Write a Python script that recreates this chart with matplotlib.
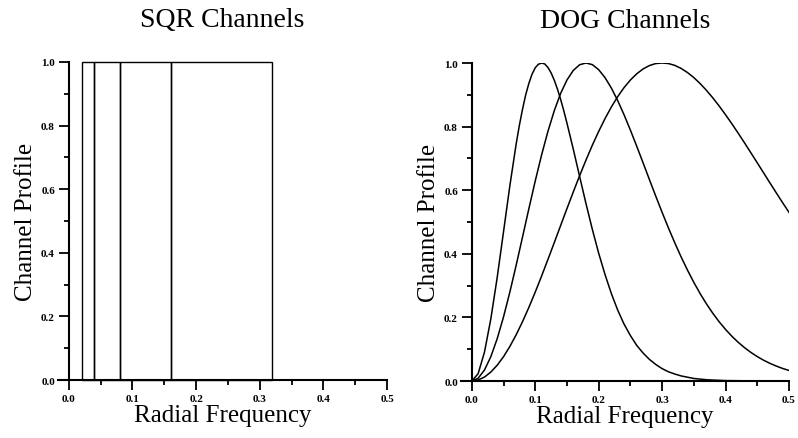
import numpy as np
import matplotlib
matplotlib.use("Agg")
import matplotlib.pyplot as plt
from matplotlib.ticker import MultipleLocator, FormatStrFormatter

plt.rcParams['font.family'] = ['Liberation Serif', 'DejaVu Serif']

# SQR channel band edges (radial frequency) and their height
sqr_edges = [0.02, 0.04, 0.08, 0.16, 0.32]
sqr_height = 1.0

# DOG channel profiles
f_ch1 = [0.00, 0.01, 0.02, 0.03, 0.04, 0.05, 0.06, 0.07, 0.075, 0.08, 0.085,
         0.09, 0.095, 0.10, 0.105, 0.11, 0.115, 0.12, 0.125, 0.13, 0.135,
         0.14, 0.145, 0.15, 0.16, 0.17, 0.18, 0.19, 0.20, 0.21, 0.22, 0.23,
         0.24, 0.25, 0.26, 0.27, 0.28, 0.29, 0.30, 0.31, 0.32, 0.33, 0.34,
         0.35, 0.36, 0.37, 0.38, 0.40, 0.45, 0.50]
dog1 = [0.0, 0.023, 0.091, 0.195, 0.325, 0.469, 0.614, 0.746, 0.804, 0.855,
        0.900, 0.936, 0.965, 0.985, 0.996, 1.0, 0.997, 0.986, 0.969, 0.946,
        0.918, 0.886, 0.850, 0.811, 0.729, 0.643, 0.558, 0.477, 0.402, 0.335,
        0.275, 0.223, 0.179, 0.143, 0.112, 0.088, 0.068, 0.052, 0.039, 0.029,
        0.022, 0.016, 0.012, 0.008, 0.006, 0.004, 0.003, 0.0014, 0.0003, 0.0]

f_grid = [0.00, 0.01, 0.02, 0.03, 0.04, 0.05, 0.06, 0.07, 0.08, 0.09, 0.10,
          0.11, 0.12, 0.13, 0.14, 0.15, 0.16, 0.17, 0.18, 0.19, 0.20, 0.21,
          0.22, 0.23, 0.24, 0.25, 0.26, 0.27, 0.28, 0.29, 0.30, 0.31, 0.32,
          0.33, 0.34, 0.35, 0.36, 0.37, 0.38, 0.39, 0.40, 0.41, 0.42, 0.43,
          0.44, 0.45, 0.46, 0.47, 0.48, 0.49, 0.50]
dog2 = [0.0, 0.0087, 0.0346, 0.0765, 0.1328, 0.2014, 0.2796, 0.3645, 0.4530,
        0.5421, 0.6289, 0.7106, 0.7848, 0.8499, 0.9042, 0.9465, 0.9767,
        0.9945, 1.0, 0.9949, 0.9790, 0.9541, 0.9212, 0.8819, 0.8373, 0.7891,
        0.7383, 0.6861, 0.6334, 0.5813, 0.5304, 0.4813, 0.4344, 0.3901,
        0.3487, 0.3102, 0.2747, 0.2423, 0.2128, 0.1861, 0.1622, 0.1407,
        0.1216, 0.1048, 0.0899, 0.0768, 0.0654, 0.0555, 0.0470, 0.0395,
        0.0332]
dog3 = [0.0, 0.0031, 0.0125, 0.0281, 0.0495, 0.0765, 0.1087, 0.1456, 0.1868,
        0.2316, 0.2796, 0.3299, 0.3821, 0.4351, 0.4887, 0.5421, 0.5946,
        0.6457, 0.6947, 0.7414, 0.7848, 0.8251, 0.8617, 0.8943, 0.9226,
        0.9465, 0.9661, 0.9813, 0.9920, 0.9983, 1.0, 0.9983, 0.9925, 0.9830,
        0.9700, 0.9541, 0.9352, 0.9138, 0.8902, 0.8646, 0.8373, 0.8088,
        0.7791, 0.7486, 0.7175, 0.6861, 0.6546, 0.6229, 0.5916, 0.5607,
        0.5304]

titles = ["SQR Channels", "DOG Channels"]
xlabel = "Radial Frequency"
ylabel = "Channel Profile"


def style_axes(ax):
    ax.set_xlim(-0.017, 0.5)
    ax.set_ylim(0, 1.0)
    ax.spines['top'].set_visible(False)
    ax.spines['right'].set_visible(False)
    ax.spines['left'].set_position(('data', 0))
    ax.spines['left'].set_linewidth(1.5)
    ax.spines['bottom'].set_linewidth(1.5)
    ax.xaxis.set_major_locator(MultipleLocator(0.1))
    ax.xaxis.set_minor_locator(MultipleLocator(0.05))
    ax.yaxis.set_major_locator(MultipleLocator(0.2))
    ax.yaxis.set_minor_locator(MultipleLocator(0.1))
    ax.xaxis.set_major_formatter(FormatStrFormatter('%.1f'))
    ax.yaxis.set_major_formatter(FormatStrFormatter('%.1f'))
    ax.tick_params(which='major', length=7, width=1.3, direction='out',
                   labelsize=8, pad=3)
    ax.tick_params(which='minor', length=3.5, width=1.3, direction='out')
    for lab in ax.get_xticklabels() + ax.get_yticklabels():
        lab.set_fontweight('bold')
    ax.set_xlabel(xlabel, fontsize=18, labelpad=1)
    ax.set_ylabel(ylabel, fontsize=18, labelpad=3)


fig = plt.figure(figsize=(7.98, 4.39), dpi=100)
ax1 = fig.add_axes([0.0727, 0.1321, 0.4123, 0.7244])
ax2 = fig.add_axes([0.5777, 0.1298, 0.4110, 0.7244])

left = sqr_edges[:-1]
widths = np.diff(sqr_edges)
ax1.bar(left, [sqr_height] * len(left), width=widths, align='edge',
        fill=False, edgecolor='black', linewidth=1.0, clip_on=False)
ax1.set_title(titles[0], fontsize=20, pad=26)
style_axes(ax1)

ax2.plot(f_ch1, dog1, color='black', lw=1.1)
ax2.plot(f_grid, dog2, color='black', lw=1.1)
ax2.plot(f_grid, dog3, color='black', lw=1.1)
ax2.set_title(titles[1], fontsize=20, pad=26)
style_axes(ax2)

fig.savefig("out.png", dpi=100)
